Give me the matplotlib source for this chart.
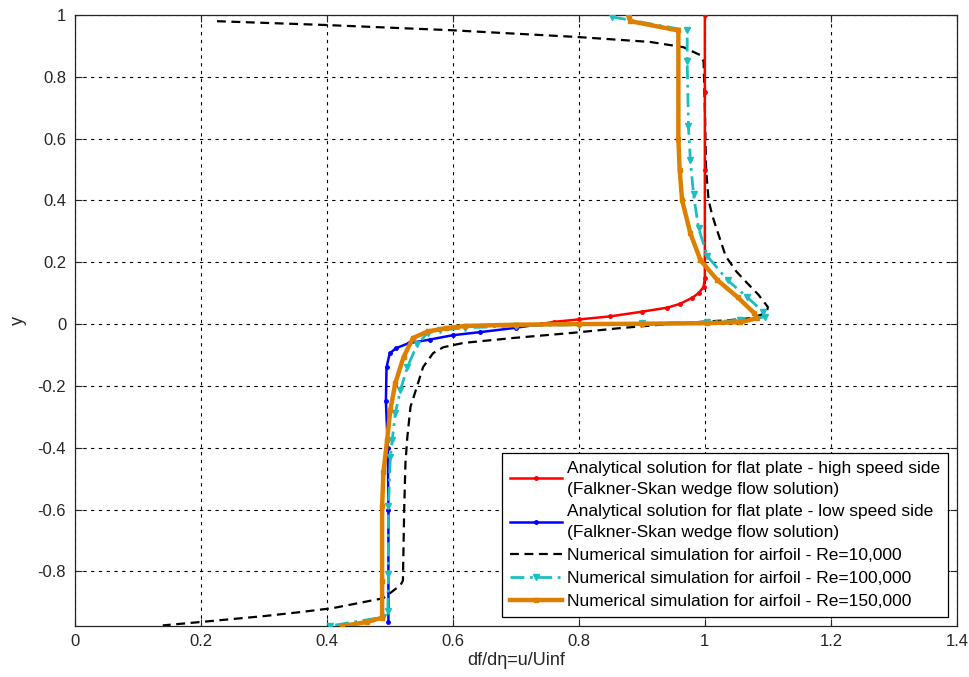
import matplotlib
matplotlib.use("Agg")
import matplotlib.pyplot as plt
import numpy as np

plt.rcParams['font.family'] = ['Liberation Sans', 'DejaVu Sans']

# --- velocity profiles (x = df/deta, y = vertical position) ---
red_x = [1.0, 1.0, 1.0, 1.0, 0.998, 0.99, 0.98, 0.96, 0.94, 0.90, 0.85, 0.80, 0.76, 0.74]
red_y = [1.0, 0.75, 0.5, 0.15, 0.12, 0.10, 0.085, 0.065, 0.053, 0.04, 0.025, 0.015, 0.007, 0.0]

blue_x = [0.74, 0.70, 0.644, 0.60, 0.564, 0.53, 0.51, 0.50, 0.495, 0.494, 0.497, 0.498, 0.498]
blue_y = [0.0, -0.012, -0.026, -0.036, -0.05, -0.062, -0.078, -0.095, -0.14, -0.25, -0.4, -0.6, -0.965]

re10k_x = [0.226, 0.395, 0.596, 0.797, 0.913, 0.966, 0.993, 0.998, 1.0, 1.002, 1.006, 1.012,
           1.02, 1.033, 1.05, 1.067, 1.085, 1.10, 1.098, 1.072, 1.04, 0.96, 0.866, 0.787,
           0.696, 0.617, 0.585, 0.569, 0.553, 0.543, 0.533, 0.528, 0.525, 0.523, 0.521,
           0.517, 0.49, 0.41, 0.358, 0.30, 0.2, 0.14]
re10k_y = [0.98, 0.968, 0.951, 0.929, 0.913, 0.896, 0.87, 0.85, 0.7, 0.5, 0.4, 0.35,
           0.30, 0.22, 0.17, 0.133, 0.095, 0.055, 0.036, 0.019, 0.013, 0.003, -0.013, -0.029,
           -0.045, -0.061, -0.075, -0.094, -0.139, -0.204, -0.268, -0.366, -0.45, -0.6, -0.83,
           -0.845, -0.887, -0.919, -0.932, -0.945, -0.964, -0.975]

re100k_x = [0.853, 0.972, 0.972, 0.974, 0.977, 0.982, 0.99, 1.004, 1.036, 1.067, 1.093, 1.096,
            1.056, 1.004, 0.9, 0.8, 0.7, 0.62, 0.58, 0.56, 0.544, 0.528, 0.517, 0.509, 0.504,
            0.501, 0.498, 0.498, 0.497, 0.49, 0.405]
re100k_y = [0.994, 0.95, 0.85, 0.64, 0.53, 0.42, 0.31, 0.22, 0.142, 0.087, 0.039, 0.023,
            0.013, 0.006, 0.002, -0.002, -0.006, -0.012, -0.02, -0.029, -0.065, -0.139, -0.214,
            -0.288, -0.375, -0.43, -0.59, -0.81, -0.93, -0.948, -0.977]

re150k_x = [0.879, 0.882, 0.958, 0.958, 0.96, 0.964, 0.977, 0.993, 1.02, 1.052, 1.078, 1.083,
            1.056, 1.004, 0.9, 0.8, 0.7, 0.62, 0.59, 0.56, 0.537, 0.522, 0.509, 0.501, 0.496,
            0.49, 0.488, 0.488, 0.488, 0.464, 0.425]
re150k_y = [0.995, 0.98, 0.95, 0.6, 0.5, 0.40, 0.294, 0.207, 0.142, 0.087, 0.036, 0.019,
            0.006, 0.003, 0.001, 0.0, -0.002, -0.006, -0.013, -0.024, -0.045, -0.107, -0.191,
            -0.278, -0.375, -0.48, -0.59, -0.83, -0.95, -0.964, -0.977]

labels = [
    'Analytical solution for flat plate - high speed side\n(Falkner-Skan wedge flow solution)',
    'Analytical solution for flat plate - low speed side\n(Falkner-Skan wedge flow solution)',
    'Numerical simulation for airfoil - Re=10,000',
    'Numerical simulation for airfoil - Re=100,000',
    'Numerical simulation for airfoil - Re=150,000',
]

xticks = [0, 0.2, 0.4, 0.6, 0.8, 1.0, 1.2, 1.4]
xticklabels = ['0', '0.2', '0.4', '0.6', '0.8', '1', '1.2', '1.4']
yticks = [-0.8, -0.6, -0.4, -0.2, 0, 0.2, 0.4, 0.6, 0.8, 1.0]
yticklabels = ['-0.8', '-0.6', '-0.4', '-0.2', '0', '0.2', '0.4', '0.6', '0.8', '1']

fig = plt.figure(figsize=(9.69, 6.77), dpi=100)
ax = fig.add_axes([0.0769, 0.0753, 0.9107, 0.9025])

cyan = '#1cbfbf'
orange = '#dd8000'

ax.plot(red_x, red_y, color='red', lw=1.8, marker='.', ms=5, label=labels[0], zorder=4)
ax.plot(blue_x, blue_y, color='blue', lw=1.8, marker='.', ms=5, label=labels[1], zorder=3)
ax.plot(re10k_x, re10k_y, color='black', lw=1.6, ls=(0, (4, 2.5)), label=labels[2], zorder=3)
ax.plot(re100k_x, re100k_y, color=cyan, lw=2.0, ls=(0, (5, 2, 1, 2)), marker='v', ms=4,
        label=labels[3], zorder=4)
ax.plot(re150k_x, re150k_y, color=orange, lw=3.2, marker='s', ms=3.5, label=labels[4], zorder=5)

ax.set_xlim(0, 1.4)
ax.set_ylim(-0.977, 1.0)
ax.set_xticks(xticks)
ax.set_xticklabels(xticklabels)
ax.set_yticks(yticks)
ax.set_yticklabels(yticklabels)
ax.tick_params(direction='in', top=True, right=True, length=5, width=0.8,
               labelsize=12, colors='#262626', pad=6)
for s in ax.spines.values():
    s.set_color('#262626')
    s.set_linewidth(0.9)

ax.grid(True, color='black', ls=(0, (3, 4)), lw=0.8)
ax.set_axisbelow(True)

ax.set_xlabel('df/d\u03b7=u/Uinf', fontsize=13, labelpad=2, color='#262626')
ax.set_ylabel('y', fontsize=13, labelpad=8, color='#262626')

leg = ax.legend(loc='lower right', bbox_to_anchor=(0.9898, 0.0147), borderaxespad=0,
                fontsize=12.5, handlelength=3.0, handletextpad=0.3, borderpad=0.45,
                labelspacing=0.45, fancybox=False, framealpha=1, edgecolor='black')
leg.get_frame().set_linewidth(0.9)
for t in leg.get_texts():
    t.set_linespacing(1.5)

fig.savefig('out.png', dpi=100)
